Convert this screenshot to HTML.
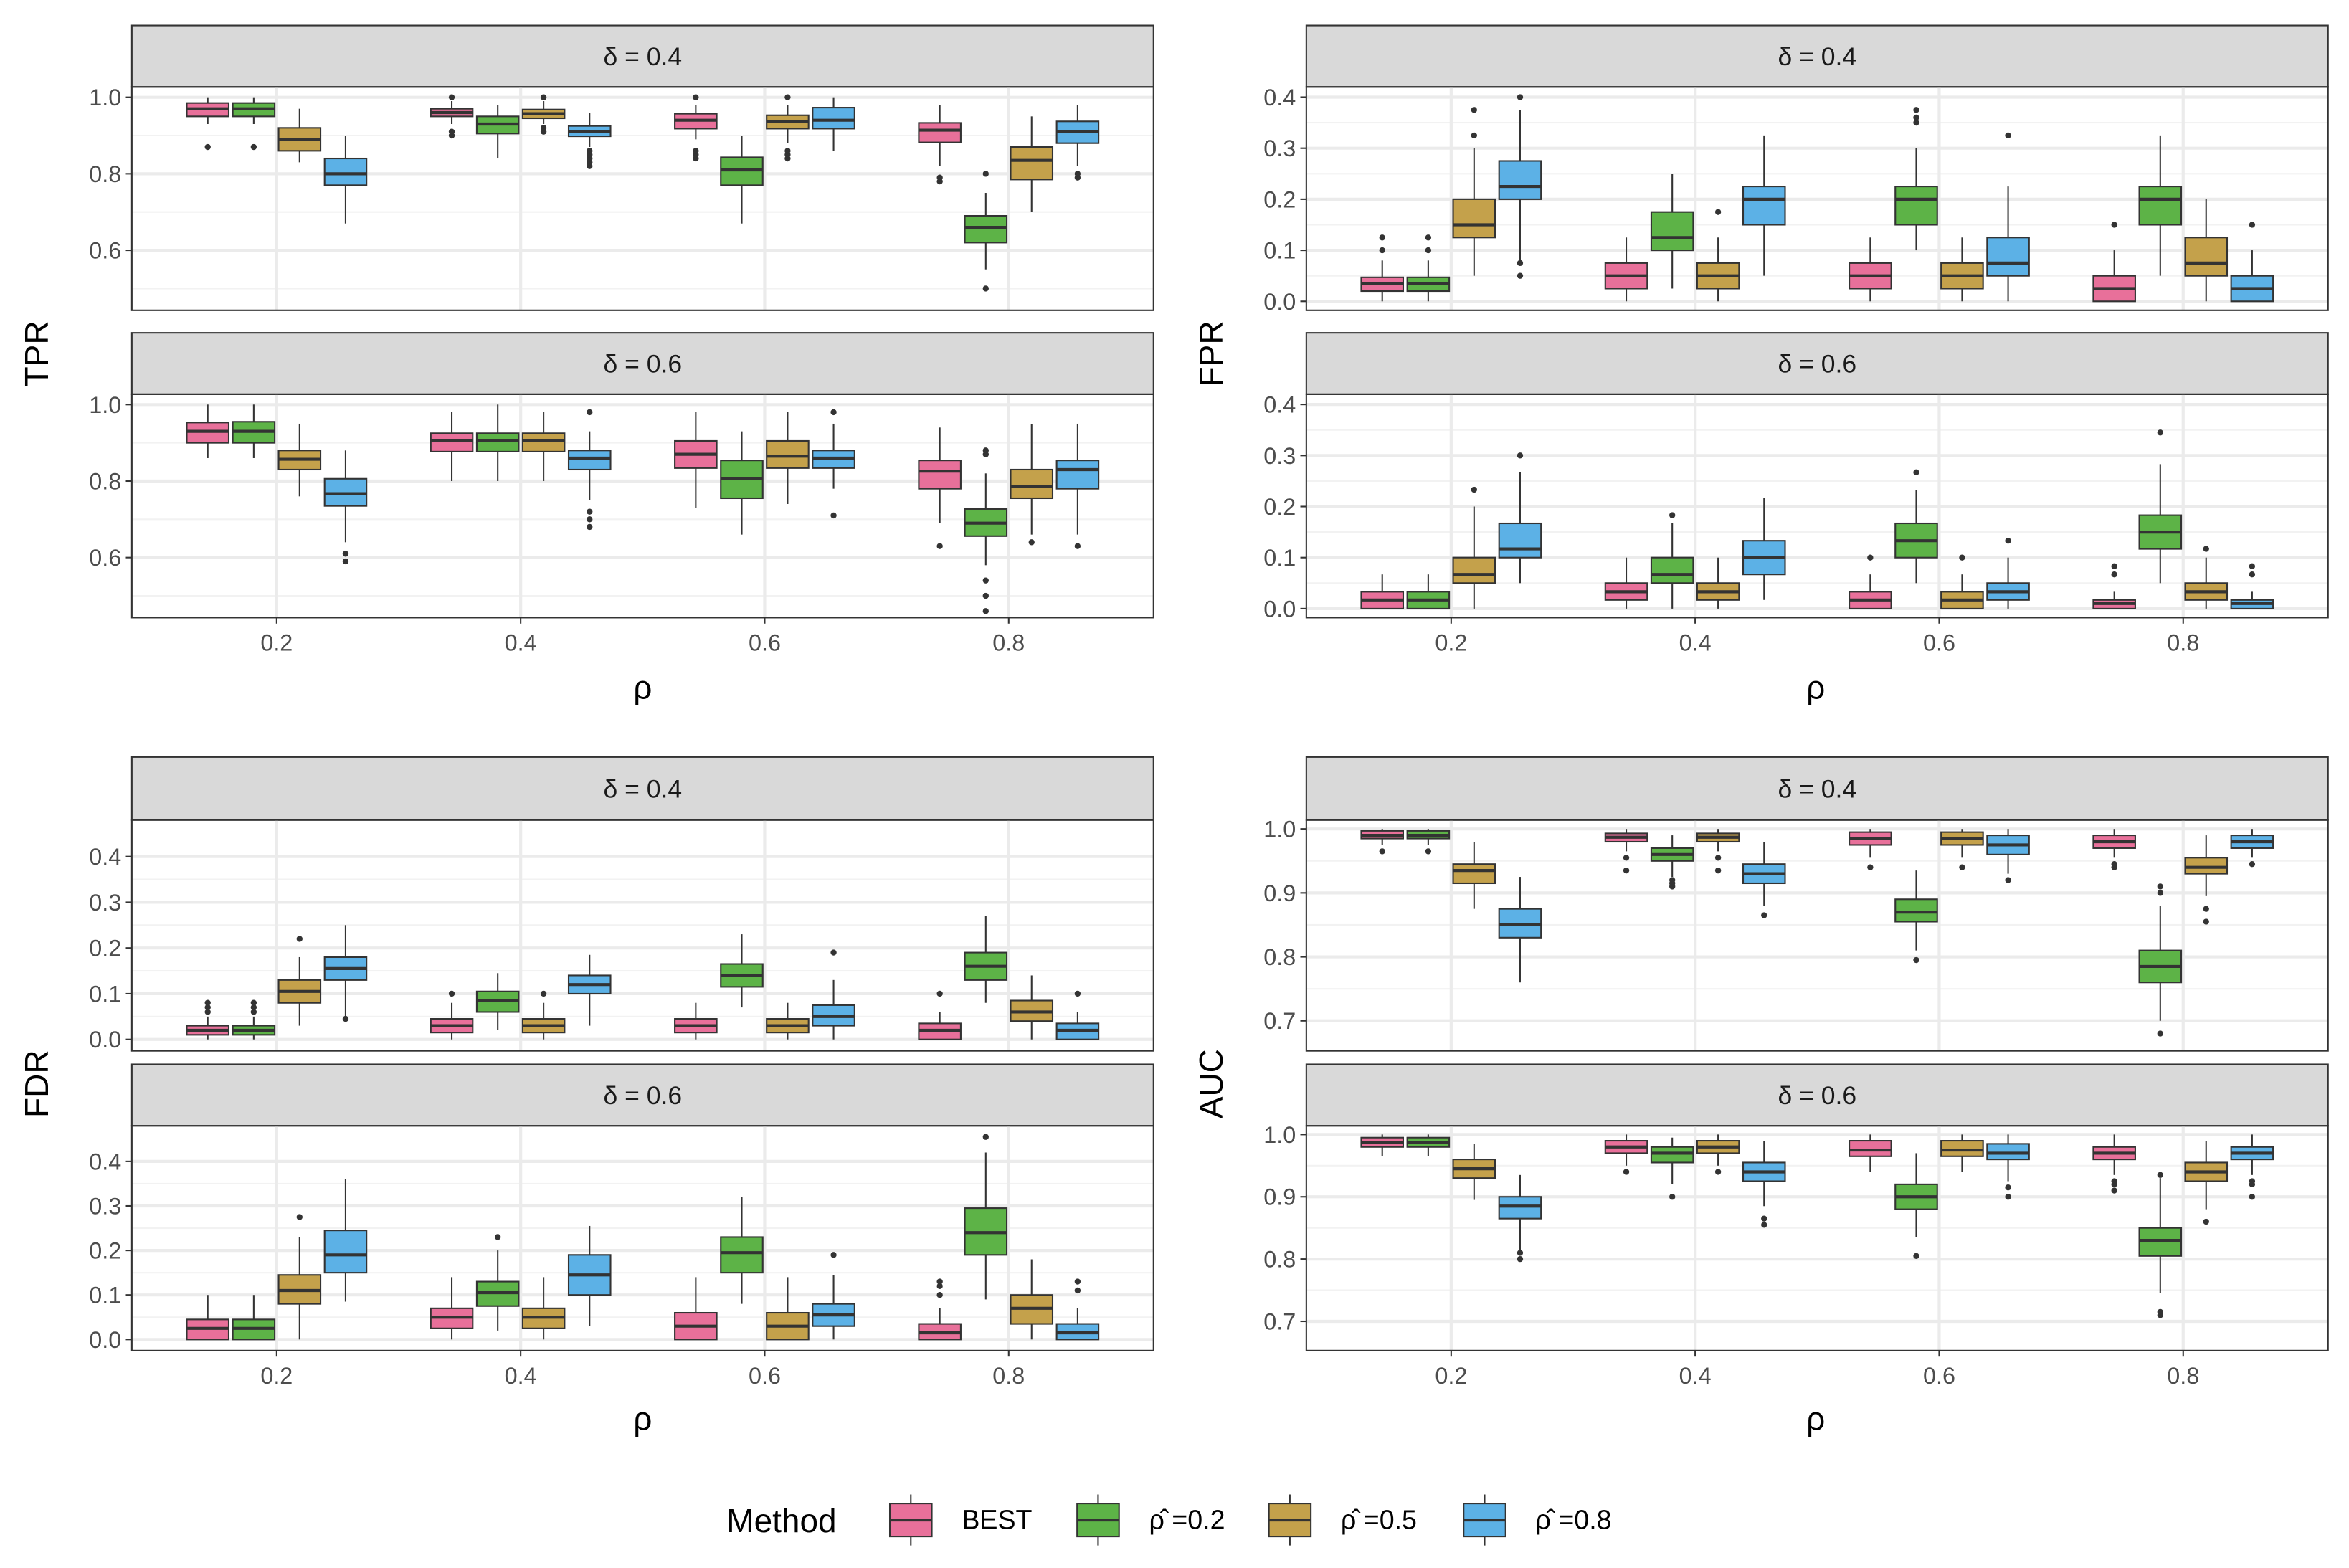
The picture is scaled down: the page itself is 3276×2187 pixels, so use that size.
<!DOCTYPE html>
<html><head><meta charset="utf-8"><style>
html,body{margin:0;padding:0;background:#fff;}
svg{display:block;font-family:"Liberation Sans",Arial,sans-serif;}
</style></head><body>
<svg id="chart" width="3276" height="2187" viewBox="0 0 1568 1046" preserveAspectRatio="none" xmlns="http://www.w3.org/2000/svg"></svg>
<script>
// ---- data ----
const rhoCategories = [0.2, 0.4, 0.6, 0.8];
const methods = ["BEST", "ρ̂ =0.2", "ρ̂ =0.5", "ρ̂ =0.8"];
const colors = ["#E8709A", "#5DB347", "#C4A14B", "#5CB1E6"];

// each entry: [lower whisker, q1, median, q3, upper whisker]; order: rho group, then method
const tprD04 = [[0.93,0.95,0.97,0.985,1.0],[0.93,0.95,0.97,0.985,1.0],[0.83,0.86,0.89,0.92,0.97],[0.67,0.77,0.80,0.84,0.90],
 [0.93,0.95,0.96,0.97,0.99],[0.84,0.905,0.93,0.95,0.98],[0.93,0.945,0.957,0.968,0.99],[0.87,0.898,0.91,0.925,0.96],
 [0.89,0.918,0.94,0.957,0.98],[0.67,0.77,0.81,0.843,0.90],[0.88,0.918,0.937,0.953,0.98],[0.86,0.918,0.94,0.973,1.0],
 [0.82,0.882,0.914,0.933,0.98],[0.55,0.62,0.66,0.69,0.75],[0.70,0.785,0.835,0.87,0.95],[0.82,0.88,0.91,0.937,0.98]];
const tprD04Out = [[0.87],[0.87],[],[],[0.90,0.91,1.0],[],[0.91,0.92,1.0],[0.82,0.83,0.84,0.85,0.86],
 [0.84,0.85,0.86,1.0],[],[0.84,0.85,0.86,1.0],[],[0.78,0.79],[0.80,0.50],[],[0.79,0.80]];
const tprD06 = [[0.86,0.90,0.93,0.953,1.0],[0.86,0.90,0.93,0.955,1.0],[0.76,0.83,0.857,0.88,0.95],[0.64,0.735,0.767,0.806,0.88],
 [0.80,0.877,0.905,0.925,0.98],[0.80,0.877,0.905,0.925,1.0],[0.80,0.877,0.905,0.925,0.98],[0.75,0.83,0.86,0.88,0.93],
 [0.73,0.834,0.87,0.905,0.98],[0.66,0.755,0.806,0.854,0.93],[0.74,0.834,0.865,0.905,0.98],[0.78,0.834,0.86,0.88,0.95],
 [0.69,0.78,0.826,0.854,0.94],[0.58,0.656,0.69,0.727,0.82],[0.66,0.755,0.786,0.83,0.95],[0.66,0.78,0.83,0.854,0.95]];
const tprD06Out = [[],[],[],[0.61,0.59],[],[],[],[0.98,0.72,0.70,0.68],[],[],[],[0.98,0.71],[0.63],[0.87,0.88,0.54,0.46,0.50],[0.64],[0.63]];

const fprD04 = [[0,0.02,0.035,0.047,0.08],[0,0.02,0.035,0.047,0.08],[0.05,0.125,0.15,0.20,0.30],[0.08,0.20,0.225,0.275,0.375],
 [0,0.025,0.05,0.075,0.125],[0.025,0.10,0.125,0.175,0.25],[0,0.025,0.05,0.075,0.125],[0.05,0.15,0.20,0.225,0.325],
 [0,0.025,0.05,0.075,0.125],[0.10,0.15,0.20,0.225,0.30],[0,0.025,0.05,0.075,0.125],[0,0.05,0.075,0.125,0.225],
 [0,0,0.025,0.05,0.10],[0.05,0.15,0.20,0.225,0.325],[0,0.05,0.075,0.125,0.20],[0,0,0.025,0.05,0.10]];
const fprD04Out = [[0.10,0.125],[0.10,0.125],[0.375,0.325],[0.05,0.075,0.40],[],[],[0.175],[],[],[0.35,0.36,0.375],[],[0.325],[0.15],[],[],[0.15]];
const fprD06 = [[0,0,0.017,0.033,0.067],[0,0,0.017,0.033,0.067],[0,0.05,0.067,0.10,0.20],[0.05,0.10,0.117,0.167,0.267],
 [0,0.017,0.033,0.05,0.10],[0,0.05,0.067,0.10,0.167],[0,0.017,0.033,0.05,0.10],[0.017,0.067,0.10,0.133,0.217],
 [0,0,0.017,0.033,0.067],[0.05,0.10,0.133,0.167,0.233],[0,0,0.017,0.033,0.067],[0,0.017,0.033,0.05,0.10],
 [0,0,0.01,0.017,0.033],[0.05,0.117,0.15,0.183,0.283],[0,0.017,0.033,0.05,0.10],[0,0,0.01,0.017,0.033]];
const fprD06Out = [[],[],[0.233],[0.30],[],[0.183],[],[],[0.10],[0.267],[0.10],[0.133],[0.067,0.083],[0.345],[0.117],[0.067,0.083]];

const fdrD04 = [[0,0.01,0.02,0.03,0.05],[0,0.01,0.02,0.03,0.05],[0.03,0.08,0.105,0.13,0.18],[0.05,0.13,0.155,0.18,0.25],
 [0,0.015,0.03,0.045,0.08],[0.02,0.06,0.085,0.105,0.145],[0,0.015,0.03,0.045,0.08],[0.03,0.10,0.12,0.14,0.185],
 [0,0.015,0.03,0.045,0.08],[0.07,0.115,0.14,0.165,0.23],[0,0.015,0.03,0.045,0.08],[0,0.03,0.05,0.075,0.13],
 [0,0,0.02,0.035,0.06],[0.08,0.13,0.16,0.19,0.27],[0,0.04,0.06,0.085,0.14],[0,0,0.02,0.035,0.06]];
const fdrD04Out = [[0.06,0.07,0.08],[0.06,0.07,0.08],[0.22],[0.045],[0.10],[],[0.10],[],[],[],[],[0.19],[0.10],[],[],[0.10]];
const fdrD06 = [[0,0,0.025,0.045,0.10],[0,0,0.025,0.045,0.10],[0,0.08,0.11,0.145,0.23],[0.085,0.15,0.19,0.245,0.36],
 [0,0.025,0.05,0.07,0.14],[0.02,0.075,0.105,0.13,0.20],[0,0.025,0.05,0.07,0.14],[0.03,0.10,0.145,0.19,0.255],
 [0,0,0.03,0.06,0.14],[0.08,0.15,0.195,0.23,0.32],[0,0,0.03,0.06,0.14],[0,0.03,0.055,0.08,0.145],
 [0,0,0.015,0.035,0.07],[0.09,0.19,0.24,0.295,0.42],[0,0.035,0.07,0.10,0.18],[0,0,0.015,0.035,0.07]];
const fdrD06Out = [[],[],[0.275],[],[],[0.23],[],[],[],[],[],[0.19],[0.10,0.12,0.13],[0.455],[],[0.11,0.13]];

const aucD04 = [[0.975,0.985,0.99,0.997,1.0],[0.975,0.985,0.99,0.997,1.0],[0.875,0.915,0.935,0.945,0.98],[0.76,0.83,0.85,0.875,0.925],
 [0.965,0.98,0.987,0.993,1.0],[0.925,0.95,0.96,0.97,0.99],[0.965,0.98,0.987,0.993,1.0],[0.88,0.915,0.93,0.945,0.98],
 [0.955,0.975,0.985,0.995,1.0],[0.81,0.855,0.87,0.89,0.935],[0.955,0.975,0.985,0.995,1.0],[0.93,0.96,0.975,0.99,1.0],
 [0.955,0.97,0.98,0.99,1.0],[0.70,0.76,0.785,0.81,0.88],[0.895,0.93,0.94,0.955,0.99],[0.955,0.97,0.98,0.99,1.0]];
const aucD04Out = [[0.965],[0.965],[],[],[0.935,0.955],[0.91,0.915,0.92],[0.935,0.955],[0.865],[0.94],[0.795],[0.94],[0.92],[0.94,0.945],[0.90,0.91,0.68],[0.875,0.855],[0.945]];
const aucD06 = [[0.965,0.98,0.987,0.995,1.0],[0.965,0.98,0.987,0.995,1.0],[0.895,0.93,0.945,0.96,0.985],[0.815,0.865,0.885,0.90,0.935],
 [0.95,0.97,0.98,0.99,1.0],[0.92,0.955,0.97,0.98,0.995],[0.95,0.97,0.98,0.99,1.0],[0.885,0.925,0.94,0.955,0.99],
 [0.94,0.965,0.975,0.99,1.0],[0.835,0.88,0.90,0.92,0.97],[0.94,0.965,0.975,0.99,1.0],[0.925,0.96,0.97,0.985,1.0],
 [0.935,0.96,0.97,0.98,1.0],[0.745,0.805,0.83,0.85,0.93],[0.88,0.925,0.94,0.955,0.99],[0.935,0.96,0.97,0.98,1.0]];
const aucD06Out = [[],[],[],[0.80,0.81],[0.94],[0.90],[0.94],[0.855,0.865],[],[0.805],[],[0.90,0.915],[0.91,0.92,0.925],[0.935,0.71,0.715],[0.86],[0.90,0.92,0.925]];

const tprTicks = [0.6, 0.8, 1.0];
const rateTicks = [0.0, 0.1, 0.2, 0.3, 0.4];
const aucTicks = [0.7, 0.8, 0.9, 1.0];
const xTicks = ["0.2", "0.4", "0.6", "0.8"];

// ---- drawing ----
const NS = "http://www.w3.org/2000/svg";
const svg = document.getElementById("chart");
function el(tag, attrs, parent, text) {
  const e = document.createElementNS(NS, tag);
  for (const k in attrs) e.setAttribute(k, attrs[k]);
  if (text !== undefined) e.textContent = text;
  (parent || svg).appendChild(e);
  return e;
}

function drawPanel(cfg) {
  const g = el("g", {});
  
  
  const {x0, x1, y0, y1, stripTop, dom, ticks, minor, stats, outs, label} = cfg;
  const xs = v => x0 + (v - 0.0813) / (0.9187 - 0.0813) * (x1 - x0);
  const ys = v => y1 - (v - dom[0]) / (dom[1] - dom[0]) * (y1 - y0);
  const st = el("rect", {x: x0, y: stripTop, width: x1 - x0, height: y0 - stripTop, fill: "#D9D9D9", stroke: "#333", "stroke-width": 1}, g);
  
  
  const stt = el("text", {x: (x0 + x1) / 2, y: (stripTop + y0) / 2 + 6, "text-anchor": "middle", "font-size": 17, fill: "#1a1a1a"}, g, label);
  
  
  minor.forEach(v => { const y = ys(v); if (y > y0 && y < y1) el("line", {x1: x0, x2: x1, y1: y, y2: y, stroke: "#F2F2F2", "stroke-width": 1}, g); });
  ticks.forEach(v => el("line", {x1: x0, x2: x1, y1: ys(v), y2: ys(v), stroke: "#EBEBEB", "stroke-width": 2}, g));
  rhoCategories.forEach(c => el("line", {x1: xs(c), x2: xs(c), y1: y0, y2: y1, stroke: "#EBEBEB", "stroke-width": 2}, g));
  const off = [-46, -15.3, 15.3, 46];
  const bw = 28;
  stats.forEach((s, i) => {
    const gi = Math.floor(i / 4), mi = i % 4;
    const cx = xs(rhoCategories[gi]) + off[mi];
    const bg = el("g", {}, g);
    
    
    el("line", {x1: cx, x2: cx, y1: ys(s[0]), y2: ys(s[1]), stroke: "#333", "stroke-width": 1}, bg);
    el("line", {x1: cx, x2: cx, y1: ys(s[3]), y2: ys(s[4]), stroke: "#333", "stroke-width": 1}, bg);
    el("rect", {x: cx - bw / 2, y: ys(s[3]), width: bw, height: Math.max(0.5, ys(s[1]) - ys(s[3])), fill: colors[mi], stroke: "#333", "stroke-width": 1}, bg);
    el("line", {x1: cx - bw / 2, x2: cx + bw / 2, y1: ys(s[2]), y2: ys(s[2]), stroke: "#333", "stroke-width": 2}, bg);
    outs[i].forEach(o => el("circle", {cx: cx, cy: ys(o), r: 2, fill: "#333"}, bg));
  });
  el("rect", {x: x0, y: y0, width: x1 - x0, height: y1 - y0, fill: "none", stroke: "#333", "stroke-width": 1}, g);
  ticks.forEach(v => {
    el("line", {x1: x0 - 4, x2: x0, y1: ys(v), y2: ys(v), stroke: "#333", "stroke-width": 1}, g);
    const t = el("text", {x: x0 - 7, y: ys(v) + 5.5, "text-anchor": "end", "font-size": 15.5, fill: "#4D4D4D"}, g, v.toFixed(1));
    
    
  });
  if (cfg.xaxis) {
    rhoCategories.forEach((c, i) => {
      el("line", {x1: xs(c), x2: xs(c), y1: y1, y2: y1 + 4, stroke: "#333", "stroke-width": 1}, g);
      const t = el("text", {x: xs(c), y: y1 + 22, "text-anchor": "middle", "font-size": 15.5, fill: "#4D4D4D"}, g, xTicks[i]);
      
      
    });
  }
}

const L = [88, 770], R = [872, 1554];
const rowsTop = [[17, 58, 207], [222, 263, 412]];
const rowsBot = [[505, 547, 701], [710, 751, 901]];
const tprDom = [0.443, 1.027], rateDom = [-0.0176, 0.42], fdrDom = [-0.025, 0.48], aucDom = [0.653, 1.014];
const tprMinor = [0.5, 0.7, 0.9], rateMinor = [0.05, 0.15, 0.25, 0.35], aucMinor = [0.65, 0.75, 0.85, 0.95];
const d4 = "δ = 0.4", d6 = "δ = 0.6";

drawPanel({name:"tpr-delta-0.4-panel", short:"tpr04", x0:L[0], x1:L[1], stripTop:rowsTop[0][0], y0:rowsTop[0][1], y1:rowsTop[0][2], dom:tprDom, ticks:tprTicks, minor:tprMinor, stats:tprD04, outs:tprD04Out, label:d4});
drawPanel({name:"tpr-delta-0.6-panel", short:"tpr06", x0:L[0], x1:L[1], stripTop:rowsTop[1][0], y0:rowsTop[1][1], y1:rowsTop[1][2], dom:tprDom, ticks:tprTicks, minor:tprMinor, stats:tprD06, outs:tprD06Out, label:d6, xaxis:true});
drawPanel({name:"fpr-delta-0.4-panel", short:"fpr04", x0:R[0], x1:R[1], stripTop:rowsTop[0][0], y0:rowsTop[0][1], y1:rowsTop[0][2], dom:rateDom, ticks:rateTicks, minor:rateMinor, stats:fprD04, outs:fprD04Out, label:d4});
drawPanel({name:"fpr-delta-0.6-panel", short:"fpr06", x0:R[0], x1:R[1], stripTop:rowsTop[1][0], y0:rowsTop[1][1], y1:rowsTop[1][2], dom:rateDom, ticks:rateTicks, minor:rateMinor, stats:fprD06, outs:fprD06Out, label:d6, xaxis:true});
drawPanel({name:"fdr-delta-0.4-panel", short:"fdr04", x0:L[0], x1:L[1], stripTop:rowsBot[0][0], y0:rowsBot[0][1], y1:rowsBot[0][2], dom:fdrDom, ticks:rateTicks, minor:rateMinor, stats:fdrD04, outs:fdrD04Out, label:d4});
drawPanel({name:"fdr-delta-0.6-panel", short:"fdr06", x0:L[0], x1:L[1], stripTop:rowsBot[1][0], y0:rowsBot[1][1], y1:rowsBot[1][2], dom:fdrDom, ticks:rateTicks, minor:rateMinor, stats:fdrD06, outs:fdrD06Out, label:d6, xaxis:true});
drawPanel({name:"auc-delta-0.4-panel", short:"auc04", x0:R[0], x1:R[1], stripTop:rowsBot[0][0], y0:rowsBot[0][1], y1:rowsBot[0][2], dom:aucDom, ticks:aucTicks, minor:aucMinor, stats:aucD04, outs:aucD04Out, label:d4});
drawPanel({name:"auc-delta-0.6-panel", short:"auc06", x0:R[0], x1:R[1], stripTop:rowsBot[1][0], y0:rowsBot[1][1], y1:rowsBot[1][2], dom:aucDom, ticks:aucTicks, minor:aucMinor, stats:aucD06, outs:aucD06Out, label:d6, xaxis:true});

function title(txt, x, y, rot, name) {
  const t = el("text", {x: x, y: y, "text-anchor": "middle", "font-size": 22, fill: "#000", transform: rot ? `rotate(-90 ${x} ${y})` : ""}, svg, txt);
  
  
}
title("TPR", 32, 236, true, "y-axis-title-tpr");
title("FPR", 816, 236, true, "y-axis-title-fpr");
title("FDR", 32, 723, true, "y-axis-title-fdr");
title("AUC", 816, 723, true, "y-axis-title-auc");
title("ρ", 429, 466, false, "x-axis-title-tpr");
title("ρ", 1212, 466, false, "x-axis-title-fpr");
title("ρ", 429, 954, false, "x-axis-title-fdr");
title("ρ", 1212, 954, false, "x-axis-title-auc");

const lg = el("g", {});


const lt = el("text", {x: 485, y: 1022, "font-size": 22, fill: "#000"}, lg, "Method");


const keyX = [592, 717, 845, 975];
methods.forEach((m, i) => {
  const e = el("g", {}, lg);
  
  
  const kx = keyX[i], cx = kx + 16;
  el("line", {x1: cx, x2: cx, y1: 997, y2: 1031, stroke: "#333", "stroke-width": 1}, e);
  el("rect", {x: kx + 2, y: 1003, width: 28, height: 22, fill: colors[i], stroke: "#333", "stroke-width": 1}, e);
  el("line", {x1: kx + 2, x2: kx + 30, y1: 1014, y2: 1014, stroke: "#333", "stroke-width": 2}, e);
  el("text", {x: kx + 50, y: 1020, "font-size": 18, fill: "#000"}, e, m);
});
</script>
</body></html>
